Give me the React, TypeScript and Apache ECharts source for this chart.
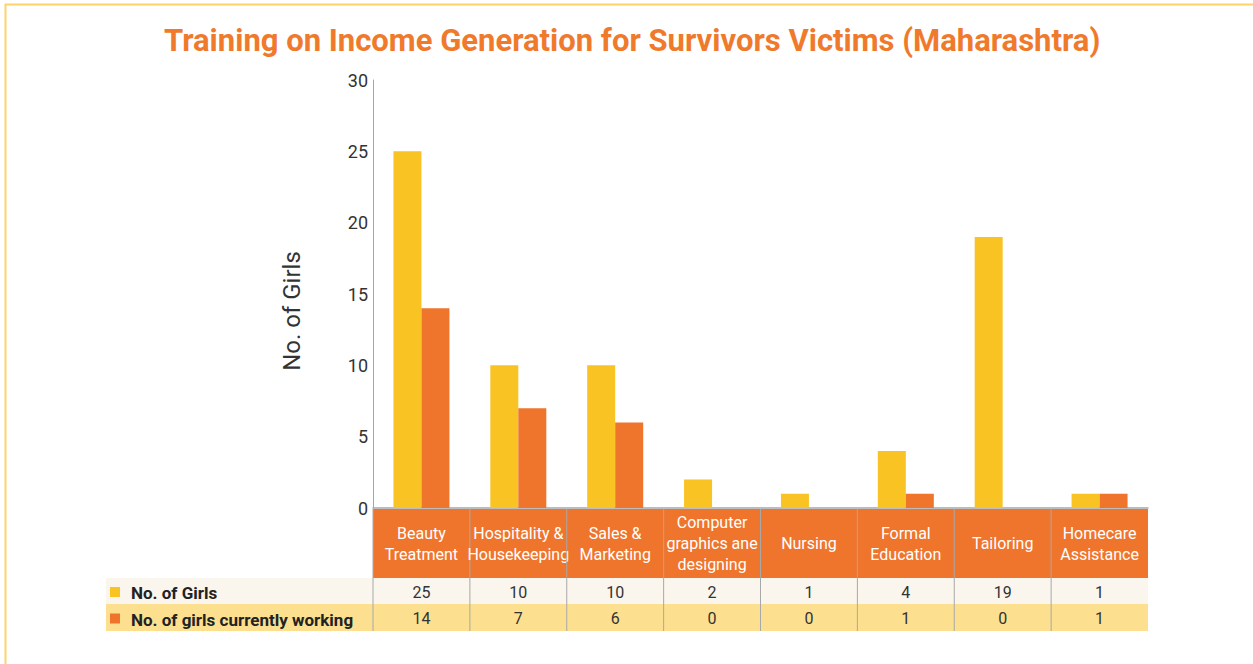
import React, { useEffect, useRef } from "react";
import * as echarts from "echarts";

const categories = [
  "Beauty\nTreatment",
  "Hospitality &\nHousekeeping",
  "Sales &\nMarketing",
  "Computer\ngraphics ane\ndesigning",
  "Nursing",
  "Formal\nEducation",
  "Tailoring",
  "Homecare\nAssistance",
];
const girls = [25, 10, 10, 2, 1, 4, 19, 1];
const working = [14, 7, 6, 0, 0, 1, 0, 1];
const seriesNames = ["No. of Girls", "No. of girls currently working"];
const yTicks = { min: 0, max: 30, interval: 5 };
const yAxisTitle = "No. of Girls";

const YELLOW = "#F9C324";
const ORANGE = "#EF752C";
const FONT = "Roboto, 'Liberation Sans', sans-serif";

export default function App() {
  const ref = useRef<HTMLDivElement>(null);
  useEffect(() => {
    if (!ref.current) return;
    const chart = echarts.init(ref.current, undefined, { renderer: "svg" });
    const gl = 373, gt = 80, gw = 775, gh = 428;
    const colW = gw / categories.length;
    const headTop = 509, headBot = 578, r1Bot = 604, r2Bot = 631;
    const legendLeft = 106;
    const graphic: any[] = [];
    // frame
    graphic.push({ type: "rect", shape: { x: 5.5, y: 4.5, width: 1400, height: 800 }, style: { fill: "none", stroke: "#FDD36A", lineWidth: 2 }, silent: true });
    // y axis title
    graphic.push({ type: "text", x: 292, y: 311, rotation: Math.PI / 2, style: { text: yAxisTitle, fill: "#333", font: `24px ${FONT}`, align: "center", verticalAlign: "middle" } });
    // header
    graphic.push({ type: "rect", shape: { x: gl, y: headTop, width: gw, height: headBot - headTop }, style: { fill: ORANGE } });
    graphic.push({ type: "rect", shape: { x: legendLeft, y: headBot, width: gl + gw - legendLeft, height: r1Bot - headBot }, style: { fill: "#FAF6EE" } });
    graphic.push({ type: "rect", shape: { x: legendLeft, y: r1Bot, width: gl + gw - legendLeft, height: r2Bot - r1Bot }, style: { fill: "#FCE08F" } });
    for (let k = 0; k < categories.length; k++) {
      const x = gl + k * colW;
      graphic.push({ type: "line", shape: { x1: x, y1: headTop, x2: x, y2: r2Bot }, style: { stroke: "#A8A8A8", lineWidth: 1 } });
      const cx = x + colW / 2;
      graphic.push({ type: "text", x: cx, y: (headTop + headBot) / 2, style: { text: categories[k], fill: "#fff", font: `16px ${FONT}`, align: "center", verticalAlign: "middle", lineHeight: 21 } });
      graphic.push({ type: "text", x: cx, y: (headBot + r1Bot) / 2 + 1, style: { text: String(girls[k]), fill: "#333", font: `16px ${FONT}`, align: "center", verticalAlign: "middle" } });
      graphic.push({ type: "text", x: cx, y: (r1Bot + r2Bot) / 2 + 1, style: { text: String(working[k]), fill: "#333", font: `16px ${FONT}`, align: "center", verticalAlign: "middle" } });
    }
    const colors = [YELLOW, ORANGE];
    const rowMid = [(headBot + r1Bot) / 2 + 1, (r1Bot + r2Bot) / 2 + 1];
    seriesNames.forEach((n, i) => {
      graphic.push({ type: "rect", shape: { x: 110, y: rowMid[i] - 5, width: 10, height: 10 }, style: { fill: colors[i] } });
      graphic.push({ type: "text", x: 131, y: rowMid[i] + 1, style: { text: n, fill: "#222", font: `bold 17px ${FONT}`, align: "left", verticalAlign: "middle" } });
    });

    chart.setOption({
      animation: false,
      title: {
        text: "Training on Income Generation for Survivors Victims (Maharashtra)",
        left: 159,
        top: 20,
        textStyle: { color: "#F07A2C", fontSize: 31, fontWeight: "bold", fontFamily: FONT },
      },
      grid: { left: gl, top: gt, width: gw, height: gh },
      xAxis: {
        type: "category",
        data: categories,
        axisLine: { lineStyle: { color: "#A6A6A6", width: 1.5 } },
        axisTick: { show: false },
        axisLabel: { show: false },
      },
      yAxis: {
        type: "value",
        min: yTicks.min,
        max: yTicks.max,
        interval: yTicks.interval,
        axisLine: { show: true, lineStyle: { color: "#A6A6A6" } },
        axisTick: { show: false },
        splitLine: { show: false },
        axisLabel: { fontSize: 18, color: "#333", fontFamily: FONT, margin: 5 },
      },
      series: [
        { name: seriesNames[0], type: "bar", data: girls, barWidth: 28, barGap: "0%", itemStyle: { color: YELLOW } },
        { name: seriesNames[1], type: "bar", data: working, barWidth: 28, barGap: "0%", itemStyle: { color: ORANGE } },
      ],
      graphic,
    });
    return () => chart.dispose();
  }, []);
  return <div ref={ref} style={{ position: "absolute", left: 0, top: 0, width: 1253, height: 664 }} />;
}
